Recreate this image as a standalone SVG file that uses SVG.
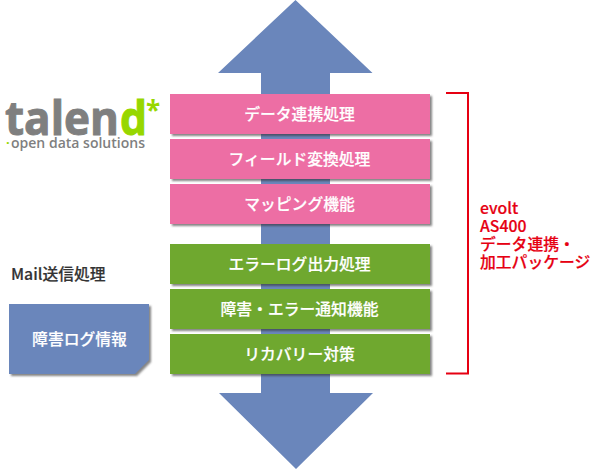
<svg xmlns="http://www.w3.org/2000/svg" width="592" height="469" viewBox="0 0 592 469">
<style>
text{font-family:"Noto Sans CJK JP","Noto Sans",sans-serif;font-weight:500}
.l{font-size:15.8px;fill:#fff;text-anchor:middle;stroke:#fff;stroke-width:.2}
.p{fill:#ed6ea4}
.g{fill:#6fa82f}
.b{fill:#6a86bb}
.r{font-size:15.8px;fill:#e60012;stroke:#e60012;stroke-width:.2}
.logo{font-family:"Open Sans","Noto Sans",sans-serif;font-weight:700}
</style>
<defs>
<filter id="s" x="-10%" y="-20%" width="120%" height="150%"><feGaussianBlur stdDeviation="1.2"/></filter>
</defs>
<g id="connectors">
<path id="updown-arrow" class="b" d="M295.5 0L372.500 73H330V393H373L296 469L219 393H261V73H218Z"/>
<path id="bracket" d="M446 93H468V373.500H446" fill="none" stroke="#e60012" stroke-width="2"/>
</g>
<g id="n1"><rect x="172" y="96" width="260" height="40" fill="#333" opacity=".6" filter="url(#s)"/><rect class="p" x="170" y="94" width="260" height="40"/><text class="l" x="299.500" y="120">データ連携処理</text></g>
<g id="n2"><rect x="172" y="141" width="260" height="40" fill="#333" opacity=".6" filter="url(#s)"/><rect class="p" x="170" y="139" width="260" height="40"/><text class="l" x="299.500" y="165">フィールド変換処理</text></g>
<g id="n3"><rect x="172" y="186" width="260" height="40" fill="#333" opacity=".6" filter="url(#s)"/><rect class="p" x="170" y="184" width="260" height="40"/><text class="l" x="299.500" y="210">マッピング機能</text></g>
<g id="n4"><rect x="172" y="246" width="260" height="40" fill="#333" opacity=".6" filter="url(#s)"/><rect class="g" x="170" y="244" width="260" height="40"/><text class="l" x="299.500" y="270">エラーログ出力処理</text></g>
<g id="n5"><rect x="172" y="291" width="260" height="40" fill="#333" opacity=".6" filter="url(#s)"/><rect class="g" x="170" y="289" width="260" height="40"/><text class="l" x="299.500" y="315">障害・エラー通知機能</text></g>
<g id="n6"><rect x="172" y="336" width="260" height="40" fill="#333" opacity=".6" filter="url(#s)"/><rect class="g" x="170" y="334" width="260" height="40"/><text class="l" x="299.500" y="360">リカバリー対策</text></g>
<g id="logo">
<text class="logo" x="5" y="135" font-size="46" fill="#7f7f7f" stroke="#7f7f7f" stroke-width="1" textLength="114" lengthAdjust="spacingAndGlyphs">talen</text>
<text class="logo" x="120" y="135" font-size="46" fill="#97d700" stroke="#97d700" stroke-width="1" textLength="27" lengthAdjust="spacingAndGlyphs">d</text>
<text class="logo" x="146" y="120" font-size="26" fill="#97d700">*</text>
<text class="logo" x="6" y="147" font-size="13" fill="#97d700">·</text>
<text x="11" y="148" font-size="15" fill="#7f7f7f" style="font-family:'Open Sans',sans-serif;font-weight:600" textLength="134" lengthAdjust="spacingAndGlyphs">open data solutions</text>
</g>
<g id="mail"><text x="11" y="280" font-size="15.800" fill="#333" stroke="#333" stroke-width=".2">Mail送信処理</text></g>
<g id="log">
<path d="M11 306H151V362L137 376H11Z" fill="#333" opacity=".6" filter="url(#s)"/>
<path class="b" d="M9 304H149V360L135 374H9Z"/>
<text class="l" x="79.500" y="345">障害ログ情報</text>
</g>
<g id="evolt">
<text class="r" x="480" y="214">evolt</text>
<text class="r" x="480" y="232">AS400</text>
<text class="r" x="480" y="250">データ連携・</text>
<text class="r" x="480" y="268">加工パッケージ</text>
</g>
</svg>
